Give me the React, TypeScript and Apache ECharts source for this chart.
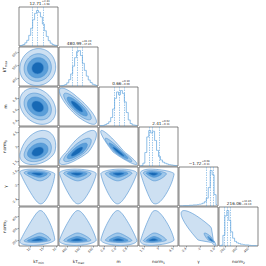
import React, { useEffect, useRef } from "react";
import * as echarts from "echarts";

// ---------- data ----------
const varNames = ["kT{s|min}", "kT{s|max}", "m", "norm{s|1}", "γ", "norm{s|2}"];
const medians = [12.71, 480.99, 0.66, 2.41, -1.72, 216.06];
const errUp = [2.43, 41.2, 0.1, 0.62, 0.08, 32.85];
const errDown = [1.98, 37.85, 0.09, 0.31, 0.11, 24.1];
const axisMin = [5.6, 340, 0.3, 1.0, -2.6, 150];
const axisMax = [20.8, 640, 1.0, 5.0, -1.5, 480];
const tickValues = [
  [10, 15, 20],
  [400, 500, 600],
  [0.4, 0.6, 0.8],
  [1.5, 3.0, 4.5],
  [-2.4, -2.0, -1.6],
  [200, 300, 400],
];

const histKTmin = [1, 2, 4, 9, 16, 30, 50, 74, 92, 100, 95, 82, 62, 43, 27, 15, 8, 4, 2, 1];
const histKTmax = [0, 1, 2, 4, 9, 18, 34, 56, 80, 97, 100, 86, 64, 44, 28, 17, 10, 5, 3, 1];
const histM = [1, 1, 2, 4, 7, 12, 24, 48, 78, 96, 88, 100, 92, 68, 38, 17, 7, 3, 2, 1];
const histNorm1 = [0, 1, 8, 38, 82, 100, 93, 98, 72, 44, 27, 17, 11, 8, 6, 4, 3, 2, 1, 1];
const histGamma = [0, 0, 1, 1, 1, 2, 2, 3, 3, 4, 5, 6, 8, 12, 22, 52, 100, 88, 32, 4];
const histNorm2 = [0, 2, 30, 85, 100, 72, 40, 22, 13, 9, 7, 5, 4, 3, 3, 2, 1, 1, 1, 0];
const histograms = [histKTmin, histKTmax, histM, histNorm1, histGamma, histNorm2];

// 2D contour description (centre and extents at the 0.5, 1, 1.5, 2 sigma levels)
const contourCenter = [12.9, 478, 0.65, 2.45, -1.69, 200];
const spreadLow = [
  [2.3, 4.0, 5.3, 7.0],
  [45, 75, 102, 135],
  [0.1, 0.17, 0.24, 0.32],
  [0.45, 0.7, 1.0, 1.3],
  [0.05, 0.1, 0.2, 0.85],
  [8, 14, 20, 45],
];
const spreadHigh = [
  [2.3, 4.0, 5.3, 7.0],
  [45, 80, 110, 150],
  [0.1, 0.17, 0.24, 0.33],
  [0.5, 0.9, 1.4, 2.2],
  [0.03, 0.06, 0.09, 0.13],
  [14, 30, 60, 250],
];
// which side holds the long tail (-1 low, +1 high, 0 none) and how much the tail narrows
const tailSide = [0, 0, 0, 0, -1, 1];
const tailTaper = [0, 0, 0, 0, 0.45, 0.5];
const correlations = [
  [0.05],
  [-0.25, -0.85],
  [0.3, 0.8, -0.95],
  [-0.3, -0.1, 0.1, -0.2],
  [0.3, 0.1, -0.1, 0.2, -0.9],
];

// ---------- styles ----------
const N = 6;
const PANEL = 39;
const STEP = 40;
const LEFT0 = 19;
const TOP0 = 7;
const FILLS = ["#1769b5", "#5b9fd9", "#9ec7ea", "#cde0f2"];
const LINE = "#4a8fd0";
const HIST = "#5fa4de";
const FONT = "DejaVu Sans";
const rich = { s: { fontSize: 3, fontFamily: FONT, verticalAlign: "bottom", padding: [2, 0, 0, 0] } };

const fmt = (v: number) => (v < 0 ? "\u2212" + Math.abs(v).toFixed(2) : v.toFixed(2));

function buildOption() {
  const grids: any[] = [];
  const xAxes: any[] = [];
  const yAxes: any[] = [];
  const series: any[] = [];
  const graphics: any[] = [];
  let g = 0;
  for (let r = 0; r < N; r++) {
    for (let c = 0; c <= r; c++) {
      grids.push({
        left: LEFT0 + STEP * c,
        top: TOP0 + STEP * r,
        width: PANEL,
        height: PANEL,
        show: true,
        borderColor: "#505050",
        borderWidth: 0.7,
        backgroundColor: "transparent",
      });
      const bottom = r === N - 1;
      xAxes.push({
        type: "value",
        gridIndex: g,
        min: axisMin[c],
        max: axisMax[c],
        axisLine: { show: false },
        splitLine: { show: false },
        axisTick: { show: bottom, customValues: tickValues[c], length: 1.5, lineStyle: { color: "#505050", width: 0.5 } },
        axisLabel: {
          show: bottom,
          customValues: tickValues[c],
          rotate: 45,
          fontSize: 3.2,
          margin: 2,
          color: "#333",
          fontFamily: FONT,
        },
        name: bottom ? varNames[c] : "",
        nameLocation: "middle",
        nameGap: 13,
        nameTextStyle: { fontSize: 4.2, fontFamily: FONT, color: "#222", rich },
      });
      const isHist = r === c;
      const leftCol = c === 0 && !isHist;
      yAxes.push({
        type: "value",
        gridIndex: g,
        min: isHist ? 0 : axisMin[r],
        max: isHist ? 110 : axisMax[r],
        axisLine: { show: false },
        splitLine: { show: false },
        axisTick: { show: leftCol, customValues: tickValues[r], length: 1.5, lineStyle: { color: "#505050", width: 0.5 } },
        axisLabel: {
          show: leftCol,
          customValues: tickValues[r],
          rotate: 45,
          fontSize: 3.2,
          margin: 2,
          color: "#333",
          fontFamily: FONT,
        },
        name: leftCol ? varNames[r] : "",
        nameLocation: "middle",
        nameGap: 12,
        nameRotate: 90,
        nameTextStyle: { fontSize: 4.2, fontFamily: FONT, color: "#222", rich },
      });

      if (isHist) {
        const h = histograms[c];
        const w = (axisMax[c] - axisMin[c]) / h.length;
        const data = h.map((v, i) => [axisMin[c] + w * (i + 0.5), v]);
        series.push({
          type: "line",
          xAxisIndex: g,
          yAxisIndex: g,
          data,
          step: "middle",
          symbol: "none",
          lineStyle: { color: HIST, width: 0.7 },
          silent: true,
          markLine: {
            silent: true,
            symbol: "none",
            label: { show: false },
            lineStyle: { color: HIST, width: 0.6, type: [1.5, 1] },
            data: [
              { xAxis: medians[c] - errDown[c] },
              { xAxis: medians[c] },
              { xAxis: medians[c] + errUp[c] },
            ],
          },
        });
        const cx = LEFT0 + STEP * c + PANEL / 2;
        const top = TOP0 + STEP * r;
        graphics.push({
          type: "text",
          x: cx + 3,
          y: top - 1.3,
          style: {
            text: fmt(medians[c]),
            fontSize: 4.2,
            fontFamily: FONT,
            fill: "#222",
            textAlign: "right",
            textVerticalAlign: "bottom",
          },
        });
        graphics.push({
          type: "text",
          x: cx + 3.3,
          y: top - 0.8,
          style: {
            text: "+" + errUp[c].toFixed(2) + "\n\u2212" + errDown[c].toFixed(2),
            fontSize: 2.6,
            lineHeight: 2.8,
            fontFamily: FONT,
            fill: "#222",
            textAlign: "left",
            textVerticalAlign: "bottom",
          },
        });
      } else {
        const rho = correlations[r - 1][c];
        const cxv = contourCenter[c];
        const cyv = contourCenter[r];
        const loX = spreadLow[c], hiX = spreadHigh[c], loY = spreadLow[r], hiY = spreadHigh[r];
        // a tail narrows only against a variable without a tail of its own
        const bothTailed = tailSide[r] !== 0 && tailSide[c] !== 0;
        const tsY = bothTailed ? 0 : tailSide[r], ttY = tailTaper[r];
        const tsX = bothTailed ? 0 : tailSide[c], ttX = tailTaper[c];
        series.push({
          type: "custom",
          xAxisIndex: g,
          yAxisIndex: g,
          clip: true,
          silent: true,
          encode: { x: 0, y: 1 },
          data: [3, 2, 1, 0].map((k) => [cxv, cyv, k]),
          renderItem: (params: any, api: any) => {
            const k = api.value(2);
            const pts: number[][] = [];
            const M = 90;
            const s = Math.sqrt(1 - rho * rho);
            for (let t = 0; t < M; t++) {
              const a = (2 * Math.PI * t) / M;
              const u = Math.cos(a);
              const v = rho * Math.cos(a) + s * Math.sin(a);
              const fu = tsY !== 0 && v * tsY > 0 ? 1 - ttY * Math.abs(v) : 1;
              const fv = tsX !== 0 && u * tsX > 0 ? 1 - ttX * Math.abs(u) : 1;
              const x = cxv + u * fu * (u < 0 ? loX[k] : hiX[k]);
              const y = cyv + v * fv * (v < 0 ? loY[k] : hiY[k]);
              pts.push(api.coord([x, y]));
            }
            return {
              type: "polygon",
              shape: { points: pts },
              style: { fill: FILLS[k], stroke: LINE, lineWidth: 0.6 },
            };
          },
        });
      }
      g++;
    }
  }
  return {
    animation: false,
    backgroundColor: "#ffffff",
    textStyle: { fontFamily: FONT },
    grid: grids,
    xAxis: xAxes,
    yAxis: yAxes,
    series,
    graphic: graphics,
  };
}

export default function App() {
  const ref = useRef<HTMLDivElement>(null);
  useEffect(() => {
    if (!ref.current) return;
    const chart = echarts.init(ref.current, undefined, { renderer: "svg" });
    chart.setOption(buildOption() as any);
    return () => chart.dispose();
  }, []);
  return (
    <div
      ref={ref}
      style={{ position: "fixed", left: 0, top: 0, width: 266, height: 266, background: "#fff" }}
    />
  );
}
